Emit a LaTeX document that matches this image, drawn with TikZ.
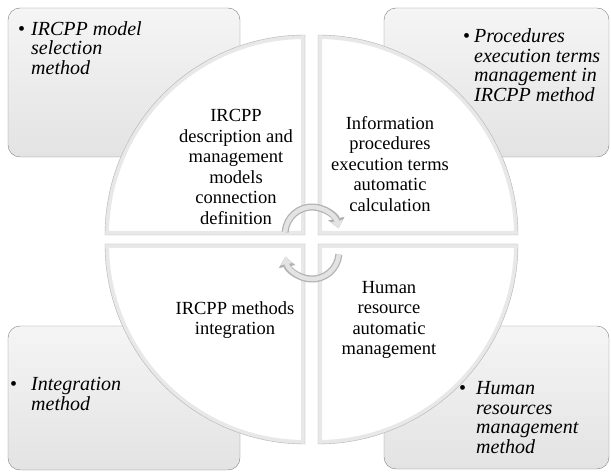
\documentclass[tikz,border=0pt]{standalone}
\usepackage{fontspec}
\setmainfont{Liberation Serif}
\usetikzlibrary{arrows.meta}

\newcommand{\blt}[1]{\makebox[#1][l]{\upshape\textbullet}}
\newcommand{\ind}[1]{\hspace*{#1}}

\begin{document}
\begin{tikzpicture}[x=1pt,y=1pt,
    panel/.style={draw=gray, rounded corners=12pt, top color=gray!8, bottom color=gray!22},
    qtext/.style={align=center, inner sep=0pt, font=\fontsize{18.5}{20.5}\selectfont},
    btext/.style={align=left, inner sep=0pt, anchor=north west, font=\fontsize{20}{19.5}\selectfont\itshape},
    cycout/.style={line width=7pt, draw=gray!60, -{Triangle[length=10pt,width=16pt]}},
    cycin/.style={line width=4.5pt, draw=gray!22, -{Triangle[length=7.5pt,width=11.5pt]}}]
  \useasboundingbox (0,0) rectangle (611,472);
  % outer panels
  \draw[panel] (8,315) rectangle (240,464);
  \draw[panel] (384,315) rectangle (609,464);
  \draw[panel] (8,2) rectangle (240,146);
  \draw[panel] (384,3) rectangle (609,146);
  \node[btext] (m1) at (18,451) {\blt{13pt}IRCPP model\\\ind{13pt}selection\\\ind{13pt}method};
  \node[btext] (m2) at (463,443.5) {\blt{11pt}Procedures\\\ind{11pt}execution terms\\\ind{11pt}management in\\\ind{11pt}IRCPP method};
  \node[btext] (m3) at (10,94.5) {\blt{21pt}Integration\\\ind{21pt}method};
  \node[btext] (m4) at (459,90.5) {\blt{17pt}Human\\\ind{17pt}resources\\\ind{17pt}management\\\ind{17pt}method};
  % quarter discs
  \foreach \cx/\cy/\a in {305/237/180, 318/237/90, 318/228/0, 305/228/270}{
    \begin{scope}
      \clip (\cx,\cy) -- ++(\a:200) arc[start angle=\a, delta angle=-90, radius=200] -- cycle;
      \fill[white] (\cx,\cy) -- ++(\a:200) arc[start angle=\a, delta angle=-90, radius=200] -- cycle;
      \draw[gray!18, line width=8pt] (\cx,\cy) -- ++(\a:200) arc[start angle=\a, delta angle=-90, radius=200] -- cycle;
    \end{scope}
    \draw[gray!60] (\cx,\cy) -- ++(\a:200) arc[start angle=\a, delta angle=-90, radius=200] -- cycle;
  }
  \node[qtext] (q1) at (236,305) {IRCPP\\description and\\management\\models\\connection\\definition};
  \node[qtext] (q2) at (390,308) {Information\\procedures\\execution terms\\automatic\\calculation};
  \node[qtext] (q3) at (235,152) {IRCPP methods\\integration};
  \node[qtext] (q4) at (389,152) {Human\\resource\\automatic\\management};
  % cycle arrows
  \coordinate (a1) at (285.1,239.9);
  \coordinate (a2) at (338.9,217.6);
  \draw[cycout] (a1) arc[start angle=176, end angle=12, radius=27];
  \draw[cycin] (a1) arc[start angle=176, end angle=12, radius=27];
  \draw[cycout] (a2) arc[start angle=-5, end angle=-170, radius=27];
  \draw[cycin] (a2) arc[start angle=-5, end angle=-170, radius=27];
\end{tikzpicture}
\end{document}
